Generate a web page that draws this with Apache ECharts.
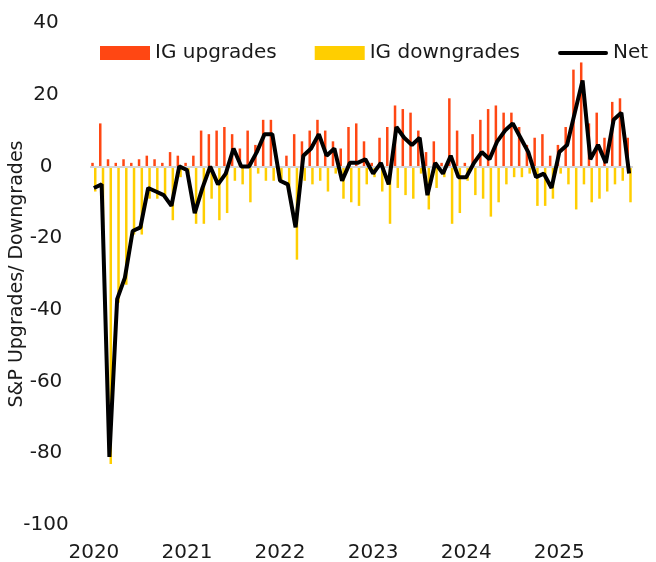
<!DOCTYPE html>
<html>
<head>
<meta charset="utf-8">
<script src="https://cdn.jsdelivr.net/npm/echarts@6/dist/echarts.min.js"></script>
<style>
  html, body { margin: 0; padding: 0; background: #fff; }
  #chart { width: 656px; height: 562px; }
</style>
</head>
<body>
<div id="chart"></div>
<script>
  // monthly, Jan 2020 .. Oct 2025
  const years = ['2020', '2021', '2022', '2023', '2024', '2025']

  const upgrades = [
    1, 12, 2, 1, 2, 1, 2, 3, 2, 1, 4, 3,
    1, 3, 10, 9, 10, 11, 9, 5, 10, 6, 13, 13,
    0, 3, 9, 7, 10, 13, 10, 7, 5, 11, 12, 7,
    1, 8, 11, 17, 16, 15, 10, 4, 7, 1, 19, 10,
    1, 9, 13, 16, 17, 15, 15, 11, 6, 8, 9, 3,
    6, 11, 27, 29, 12, 15, 8, 18, 19, 8
  ]

  const downgrades = [
    -7, -17, -83, -38, -33, -19, -19, -9, -9, -9, -15, -3,
    -2, -16, -16, -9, -15, -13, -4, -5, -10, -2, -4, -4,
    -4, -8, -26, -4, -5, -4, -7, -2, -9, -10, -11, -5,
    -3, -7, -16, -6, -8, -9, -2, -12, -6, -3, -16, -13,
    -4, -8, -9, -14, -10, -5, -3, -3, -2, -11, -11, -9,
    -2, -5, -12, -5, -10, -9, -7, -5, -4, -10
  ]

  const net = [
    -6, -5, -81, -37, -31, -18, -17, -6, -7, -8, -11, 0,
    -1, -13, -6, 0, -5, -2, 5, 0, 0, 4, 9, 9,
    -4, -5, -17, 3, 5, 9, 3, 5, -4, 1, 1, 2,
    -2, 1, -5, 11, 8, 6, 8, -8, 1, -2, 3, -3,
    -3, 1, 4, 2, 7, 10, 12, 8, 4, -3, -2, -6,
    4, 6, 15, 24, 2, 6, 1, 13, 15, -2
  ]

  // category labels: year-month
  const months = []
  years.forEach(y => {
    for (let m = 1; m <= 12; m++) {
      if (months.length < upgrades.length) months.push(y + '-' + (m < 10 ? '0' + m : m))
    }
  })

  const font = 'DejaVu Sans'
  const textColor = '#1a1a1a'
  // thick rounded line used as the legend mark of "Net"
  const netIcon = 'path://M0,0 M50,14 M2,5 L48,5 A2,2 0 0 1 48,9 L2,9 A2,2 0 0 1 2,5 Z'

  const chart = echarts.init(document.getElementById('chart'), null, { renderer: 'canvas' })

  chart.setOption({
    animation: false,
    textStyle: { fontFamily: font },
    legend: {
      top: 38,
      left: 95,
      width: 600,
      itemWidth: 50,
      itemHeight: 14,
      itemGap: 38,
      textStyle: { fontSize: 20, color: textColor, fontFamily: font },
      data: [
        { name: 'IG upgrades', icon: 'rect' },
        { name: 'IG downgrades', icon: 'rect' },
        { name: 'Net', icon: netIcon }
      ]
    },
    grid: {
      left: 90,
      right: 23,
      top: 23,
      bottom: 37,
      outerBoundsMode: 'none'
    },
    xAxis: {
      type: 'category',
      data: months,
      axisLine: { show: false, onZero: false },
      axisTick: { show: false },
      axisLabel: {
        margin: 18,
        fontSize: 20,
        color: textColor,
        fontFamily: font,
        interval: (i) => i % 12 === 0,
        formatter: (v) => v.slice(0, 4)
      }
    },
    yAxis: {
      type: 'value',
      min: -100,
      max: 40,
      interval: 20,
      name: 'S&P Upgrades/ Downgrades',
      nameLocation: 'middle',
      nameGap: 63,
      nameMoveOverlap: false,
      nameTextStyle: { fontSize: 19, color: textColor, fontFamily: font },
      axisLine: { show: false },
      axisTick: { show: false },
      splitLine: { show: false },
      axisLabel: {
        align: 'center',
        margin: 44,
        fontSize: 20,
        color: textColor,
        fontFamily: font
      }
    },
    series: [
      {
        name: 'IG upgrades',
        type: 'bar',
        data: upgrades,
        barWidth: 2.5,
        barGap: '10%',
        itemStyle: { color: '#FF4713' },
        markLine: {
          silent: true,
          symbol: 'none',
          label: { show: false },
          lineStyle: { color: '#d6d6d6', width: 2, type: 'solid' },
          data: [{ yAxis: 0 }]
        }
      },
      {
        name: 'IG downgrades',
        type: 'bar',
        data: downgrades,
        barWidth: 2.5,
        itemStyle: { color: '#FFCE00' }
      },
      {
        name: 'Net',
        type: 'line',
        data: net,
        symbol: 'none',
        z: 5,
        lineStyle: { color: '#000', width: 4 },
        itemStyle: { color: '#000' }
      }
    ]
  })
</script>
</body>
</html>
